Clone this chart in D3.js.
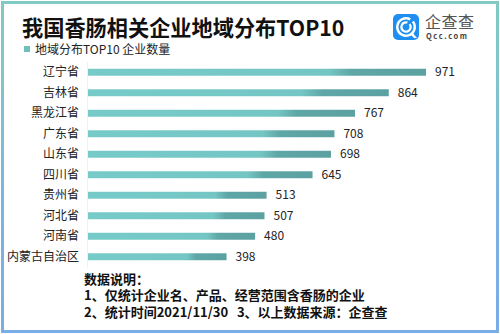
<!DOCTYPE html>
<html><head><meta charset="utf-8">
<script src="https://cdn.jsdelivr.net/npm/d3@7"></script>
<style>body{margin:0;background:#fff}svg{display:block;font-family:"Noto Sans CJK SC","Noto Sans",sans-serif}</style>
</head><body><svg id="c" width="500" height="334"></svg>
<script>
const categories = ["辽宁省","吉林省","黑龙江省","广东省","山东省","四川省","贵州省","河北省","河南省","内蒙古自治区"];
const values = [971,864,767,708,698,645,513,507,480,398];
const title = "我国香肠相关企业地域分布TOP10";
const legendLabel = "地域分布TOP10 企业数量";
const notes = ["数据说明：","1、仅统计企业名、产品、经营范围含香肠的企业","2、统计时间2021/11/30   3、以上数据来源：企查查"];

const svg = d3.select("#c");
const defs = svg.append("defs");
const bg = defs.append("linearGradient").attr("id","border").attr("x1",0).attr("y1",0).attr("x2",0).attr("y2",1);
bg.append("stop").attr("offset","0%").attr("stop-color","#7fcac3");
bg.append("stop").attr("offset","25%").attr("stop-color","#80c4cc");
bg.append("stop").attr("offset","60%").attr("stop-color","#7cb4e2");
bg.append("stop").attr("offset","100%").attr("stop-color","#78ade6");
const bar = defs.append("linearGradient").attr("id","bar").attr("x1",0).attr("y1",0).attr("x2",1).attr("y2",0);
bar.append("stop").attr("offset","0%").attr("stop-color","#76cbc9");
bar.append("stop").attr("offset","71%").attr("stop-color","#74c6c4");
bar.append("stop").attr("offset","78%").attr("stop-color","#5fa6a6");
bar.append("stop").attr("offset","100%").attr("stop-color","#5ca1a1");

svg.append("rect").attr("x",2.5).attr("y",2.5).attr("width",495).attr("height",329)
  .attr("fill","#fff").attr("stroke","url(#border)").attr("stroke-width",3);

svg.append("text").attr("x",22).attr("y",36).attr("font-size",21.2).attr("font-weight","bold").attr("fill","#111").text(title);

// legend
svg.append("rect").attr("x",24).attr("y",46).attr("width",6).attr("height",6).attr("fill","#6fbfbd");
svg.append("text").attr("x",35).attr("y",54).attr("font-size",12).attr("fill","#222").text(legendLabel);

// logo
const lg = svg.append("g").attr("transform","translate(393,14)");
lg.append("rect").attr("width",26).attr("height",26).attr("rx",5).attr("fill","#1e8ff0");
const arc = d3.arc();
lg.append("path").attr("transform","translate(13,13)")
  .attr("d",arc({innerRadius:7.5,outerRadius:10,startAngle:0.9,endAngle:2*Math.PI+0.5})).attr("fill","#fff");
lg.append("path").attr("transform","translate(13,13)")
  .attr("d",arc({innerRadius:3.5,outerRadius:5.8,startAngle:0.9,endAngle:2*Math.PI+0.3})).attr("fill","#fff");
lg.append("path").attr("d","M19 18 L24 24 L21 24 L17 20 Z").attr("fill","#fff");
const logoText = svg.append("text");
logoText.append("tspan").attr("x",425).attr("y",28).attr("font-size",16).attr("fill","#555").attr("letter-spacing",0.5).text("企查查");
logoText.append("tspan").attr("x",426).attr("y",39).attr("font-size",7.5).attr("fill","#444").attr("font-weight","bold").attr("letter-spacing",1.6).text("Qcc.com");

// chart
const x = d3.scaleLinear().domain([0,971]).range([88,426]);
const y = d3.scaleBand().domain(categories).range([62,267]).paddingInner(0.66).paddingOuter(0.33);

svg.append("line").attr("x1",87.5).attr("x2",87.5).attr("y1",62).attr("y2",268).attr("stroke","#eef2f2");

const rows = svg.selectAll("g.row").data(categories).join("g").attr("class","row");
rows.append("rect").attr("x",x(0)).attr("y",d=>y(d)).attr("height",y.bandwidth())
  .attr("width",(d,i)=>x(values[i])-x(0)).attr("fill","url(#bar)");
rows.append("text").attr("x",79).attr("y",d=>y(d)+y.bandwidth()/2).attr("dy","0.35em")
  .attr("text-anchor","end").attr("font-size",12).attr("fill","#222").text(d=>d);
rows.append("text").attr("x",(d,i)=>x(values[i])+9).attr("y",d=>y(d)+y.bandwidth()/2).attr("dy","0.35em")
  .attr("font-size",12).attr("fill","#222").text((d,i)=>values[i]);

const noteText = svg.append("text").attr("font-size",13).attr("font-weight","bold").attr("fill","#111")
  .attr("xml:space","preserve").style("white-space","pre");
noteText.selectAll("tspan").data(notes).join("tspan")
  .attr("x",84).attr("y",(d,i)=>284+i*16.3).text(d=>d);
</script></body></html>
